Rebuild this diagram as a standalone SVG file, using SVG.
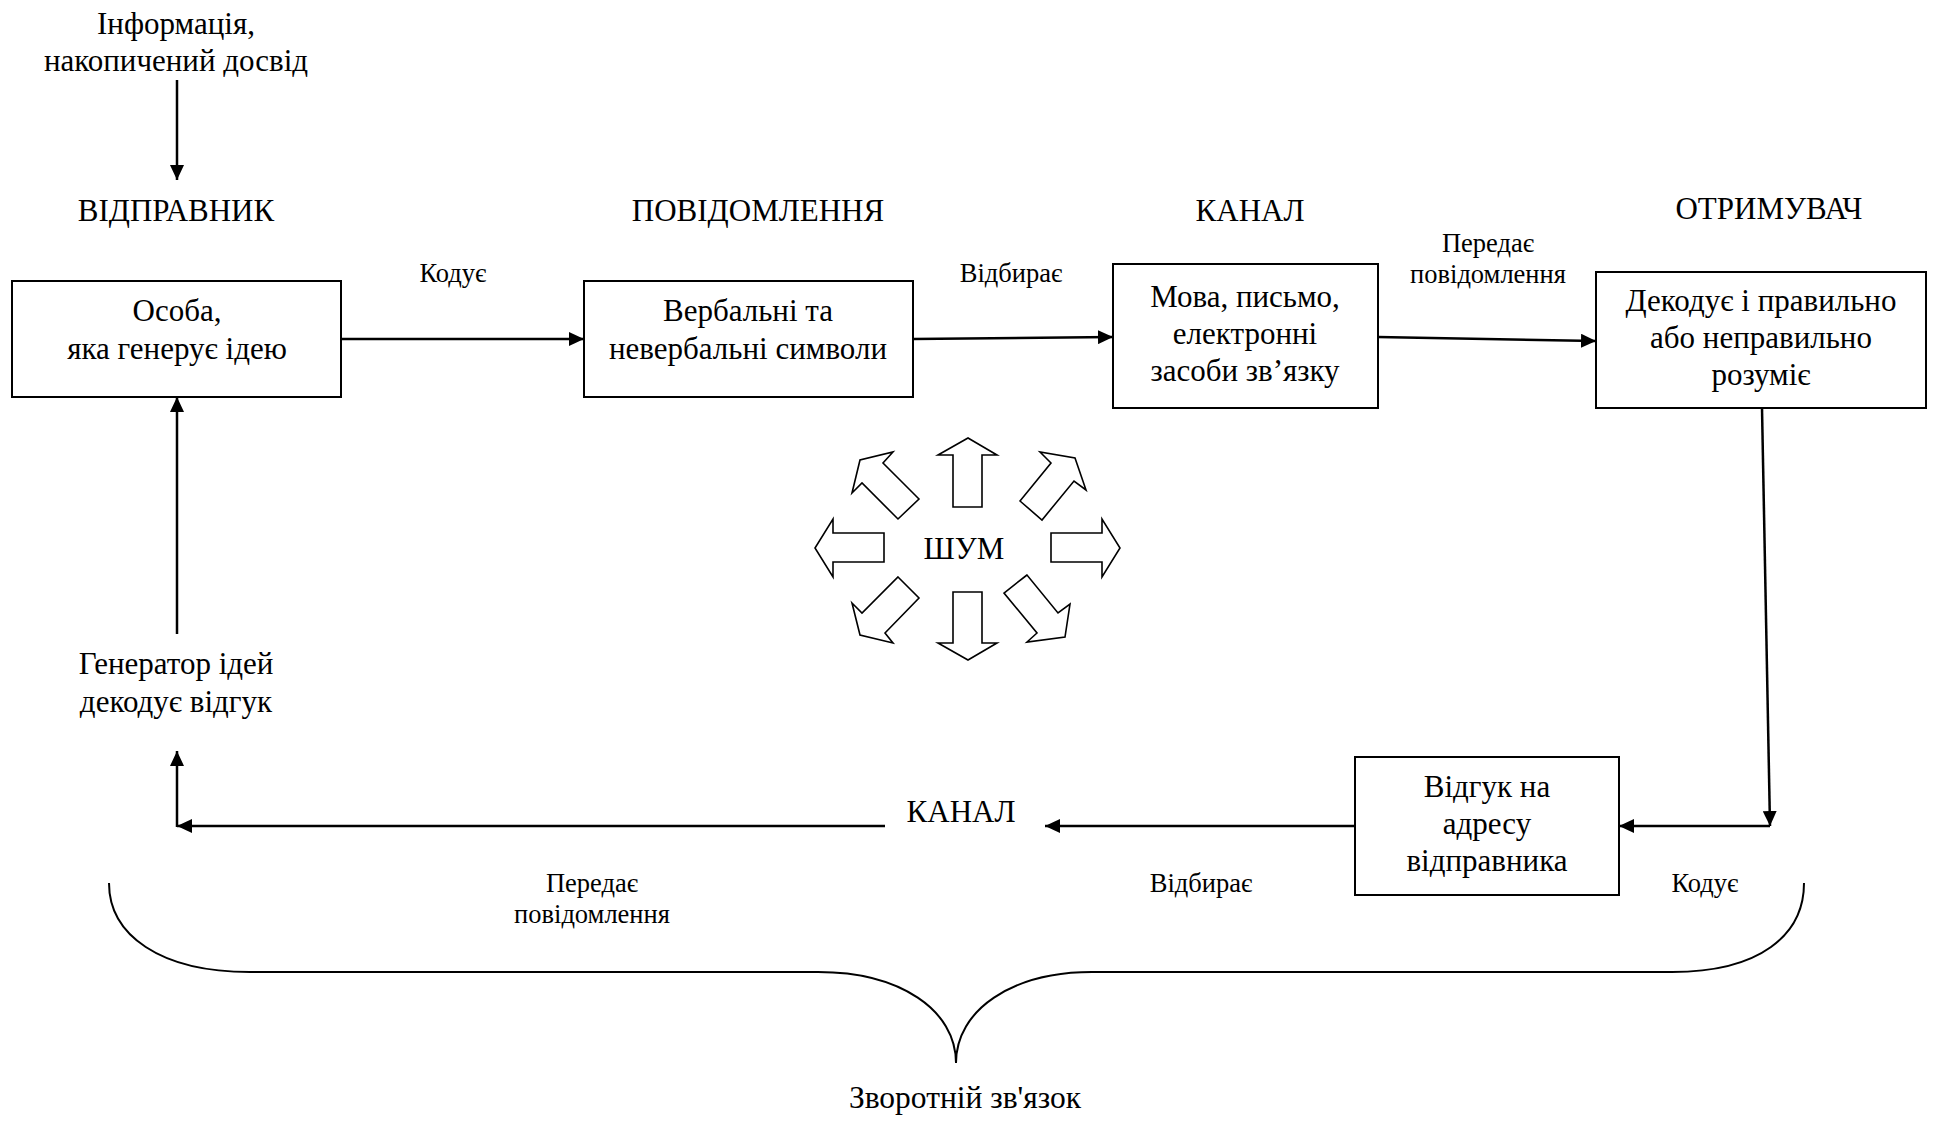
<svg xmlns="http://www.w3.org/2000/svg" width="1933" height="1129" viewBox="0 0 1933 1129">
<style>
text{font-family:"Liberation Serif","Times New Roman",serif;fill:#000;text-anchor:middle}
.t{font-size:31px}
.s{font-size:26.5px}
.box{fill:#fff;stroke:#000;stroke-width:2}
.c{fill:none;stroke:#000;stroke-width:2.5}
.n{fill:#fff;stroke:#000;stroke-width:1.6;stroke-linejoin:miter}
</style>
<defs>
<marker id="ah" markerUnits="userSpaceOnUse" markerWidth="16" markerHeight="14" refX="15" refY="7" orient="auto">
<path d="M0,0 L15,7 L0,14 z" fill="#000"/>
</marker>
</defs>
<rect width="1933" height="1129" fill="#fff"/>

<g id="labels">
<text class="t" x="176" y="34">Інформація,</text>
<text class="t" x="176" y="71">накопичений досвід</text>
<text class="t" x="176" y="221">ВІДПРАВНИК</text>
<text class="t" x="758" y="221">ПОВІДОМЛЕННЯ</text>
<text class="t" x="1250" y="221">КАНАЛ</text>
<text class="t" x="1769" y="219">ОТРИМУВАЧ</text>
<text class="s" x="453" y="282">Кодує</text>
<text class="s" x="1011" y="282">Відбирає</text>
<text class="s" x="1488" y="252">Передає</text>
<text class="s" x="1488" y="283">повідомлення</text>
<text class="t" x="176" y="674">Генератор ідей</text>
<text class="t" x="176" y="712">декодує відгук</text>
<text class="t" x="961" y="822">КАНАЛ</text>
<text class="s" x="592" y="892">Передає</text>
<text class="s" x="592" y="923">повідомлення</text>
<text class="s" x="1201" y="892">Відбирає</text>
<text class="s" x="1705" y="892">Кодує</text>
<text class="t" x="965" y="1108" style="font-size:31.5px">Зворотній зв'язок</text>
</g>

<g id="node-sender">
<rect class="box" x="12" y="281" width="329" height="116"/>
<text class="t" x="177" y="321">Особа,</text>
<text class="t" x="177" y="359">яка генерує ідею</text>
</g>

<g id="node-message">
<rect class="box" x="584" y="281" width="329" height="116"/>
<text class="t" x="748" y="321">Вербальні та</text>
<text class="t" x="748" y="359">невербальні символи</text>
</g>

<g id="node-channel">
<rect class="box" x="1113" y="264" width="265" height="144"/>
<text class="t" x="1245" y="307">Мова, письмо,</text>
<text class="t" x="1245" y="344">електронні</text>
<text class="t" x="1245" y="381">засоби зв’язку</text>
</g>

<g id="node-receiver">
<rect class="box" x="1596" y="272" width="330" height="136"/>
<text class="t" x="1761" y="311">Декодує і правильно</text>
<text class="t" x="1761" y="348">або неправильно</text>
<text class="t" x="1761" y="385">розуміє</text>
</g>

<g id="node-response">
<rect class="box" x="1355" y="757" width="264" height="138"/>
<text class="t" x="1487" y="797">Відгук на</text>
<text class="t" x="1487" y="834">адресу</text>
<text class="t" x="1487" y="871">відправника</text>
</g>

<g id="noise">
<text class="t" x="964" y="559">ШУМ</text>
<polygon class="n" points="953,507 953,455 938,455 968,438 997,455 982,455 982,507"/>
<polygon class="n" points="953,592 953,643 938,643 968,660 997,643 982,643 982,592"/>
<polygon class="n" points="884,533 833,533 833,519 815,548 833,577 833,562 884,562"/>
<polygon class="n" points="1051,533 1102,533 1102,519 1120,548 1102,577 1102,562 1051,562"/>
<polygon class="n" points="919,499 883,463 893,452 860,460 852,493 862,483 898,519"/>
<polygon class="n" points="1020,501 1051,463 1040,452 1075,458 1086,490 1074,481 1042,520"/>
<polygon class="n" points="898,577 919,598 885,633 893,643 860,635 852,603 862,613"/>
<polygon class="n" points="1027,575 1004,593 1037,633 1027,642 1065,637 1070,604 1058,613"/>
</g>

<g id="connectors">
<path class="c" d="M177,80 L177,180" marker-end="url(#ah)"/>
<path class="c" d="M341,339 L584,339" marker-end="url(#ah)"/>
<path class="c" d="M913,339 L1113,337" marker-end="url(#ah)"/>
<path class="c" d="M1378,337 L1596,341" marker-end="url(#ah)"/>
<path class="c" d="M1762,408 L1770,826" marker-end="url(#ah)"/>
<path class="c" d="M1770,826 L1619,826" marker-end="url(#ah)"/>
<path class="c" d="M1355,826 L1045,826" marker-end="url(#ah)"/>
<path class="c" d="M885,826 L177,826" marker-end="url(#ah)"/>
<path class="c" d="M177,827 L177,751" marker-end="url(#ah)"/>
<path class="c" d="M177,634 L177,397" marker-end="url(#ah)"/>
<path fill="none" stroke="#000" stroke-width="2" d="M109,883 C109,935 160,972 250,972 L818,972 C900,972 956,1010 956,1063 C956,1010 1012,972 1092,972 L1672,972 C1760,972 1804,935 1804,883"/>
</g>
</svg>
